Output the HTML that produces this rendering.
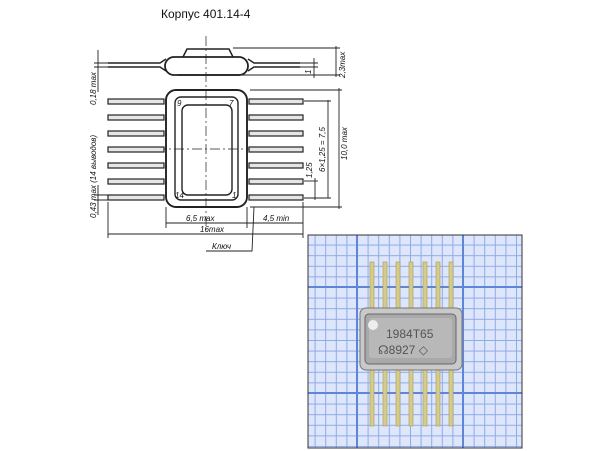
<!DOCTYPE html>
<html><head><meta charset="utf-8"><style>
html,body{margin:0;padding:0;background:#fff;width:600px;height:451px;overflow:hidden}
svg{display:block}
</style></head><body>
<svg width="600" height="451" viewBox="0 0 600 451" xmlns="http://www.w3.org/2000/svg" font-family="Liberation Sans, sans-serif">
<defs>
<pattern id="g" x="304" y="234" width="10.6" height="10.6" patternUnits="userSpaceOnUse">
<path d="M0 0.5H10.6M0.5 0V10.6" stroke="#8eaae6" stroke-width="1"/>
</pattern>
<pattern id="G" x="356" y="286" width="106" height="106" patternUnits="userSpaceOnUse">
<path d="M0 1H106M1 0V106" stroke="#5f86d6" stroke-width="2"/>
</pattern>
</defs>
<text x="161" y="18" font-size="12" fill="#111">Корпус 401.14-4</text>
<g stroke="#222" fill="none" stroke-width="1.2">
<line x1="206" y1="36" x2="206" y2="230" stroke-dasharray="10,3,2,3" stroke-width="0.7"/>
<path d="M108 63H160L166 59M108 67H160L166 71M248 59L254 63H300M248 71L254 67H300" stroke-width="1.4"/>
<rect x="165" y="57" width="83" height="18" rx="9" stroke-width="1.8"/>
<path d="M183 57L187 49H229L233 57" stroke-width="1.5"/>
<path d="M178 75H240" stroke-width="1.4"/>
<rect x="166" y="90" width="81" height="117" rx="10" stroke-width="1.9"/>
<rect x="175" y="97" width="63" height="103" rx="6" stroke-width="1.4"/>
<rect x="182" y="105" width="50" height="90" rx="6" stroke-width="1.4"/>
<line x1="120" y1="149" x2="290" y2="149" stroke-dasharray="10,3,2,3" stroke-width="0.7"/>
</g>
<g stroke="#222" stroke-width="1.2" fill="#e6e6e6">
<rect x="108" y="99" width="56" height="5"/><rect x="108" y="115" width="56" height="5"/><rect x="108" y="131" width="56" height="5"/><rect x="108" y="147" width="56" height="5"/><rect x="108" y="163" width="56" height="5"/><rect x="108" y="179" width="56" height="5"/><rect x="108" y="195" width="56" height="5"/>
<rect x="249" y="99" width="54" height="5"/><rect x="249" y="115" width="54" height="5"/><rect x="249" y="131" width="54" height="5"/><rect x="249" y="147" width="54" height="5"/><rect x="249" y="163" width="54" height="5"/><rect x="249" y="179" width="54" height="5"/><rect x="249" y="195" width="54" height="5"/>
</g>
<g font-style="italic" font-size="8" fill="#111">
<text x="177" y="106">9</text><text x="229" y="106">7</text>
<text x="175" y="198">14</text><text x="232" y="198">1</text>
</g>
<g stroke="#222" stroke-width="0.9" fill="none">
<line x1="339" y1="88" x2="339" y2="209"/><path d="M250 90H342M250 207H342"/>
<line x1="328" y1="100" x2="328" y2="198"/><path d="M304 101H331M304 198H331"/>
<line x1="315" y1="178" x2="315" y2="200"/><path d="M304 181H318"/>
<line x1="336" y1="46" x2="336" y2="77"/><path d="M233 48H340M240 75H340"/>
<line x1="314" y1="58" x2="314" y2="78"/><path d="M300 63H318M300 67H318"/>
<line x1="98" y1="50" x2="98" y2="92"/><path d="M94 63H108M94 67H108"/>
<line x1="98" y1="185" x2="98" y2="215"/><path d="M94 195H108M94 200H108"/>
<path d="M166 207V228M247 207V228M303 202V238M108 202V238"/>
<line x1="166" y1="223" x2="247" y2="223"/>
<line x1="247" y1="223" x2="303" y2="223"/>
<line x1="108" y1="234" x2="303" y2="234"/>
<path d="M206 251H252L254 207"/>
</g>
<g font-style="italic" font-size="8" fill="#111">
<text x="186" y="221">6,5 max</text>
<text x="263" y="221">4,5 min</text>
<text x="200" y="232">16max</text>
<text x="212" y="249">Ключ</text>
<text transform="translate(347,160) rotate(-90)">10,0 max</text>
<text transform="translate(325,172) rotate(-90)">6×1,25 = 7,5</text>
<text transform="translate(312,178) rotate(-90)">1,25</text>
<text transform="translate(345,78) rotate(-90)">2,3max</text>
<text transform="translate(311,74) rotate(-90)">1</text>
<text transform="translate(96,105) rotate(-90)">0,18 max</text>
<text transform="translate(96,218) rotate(-90)">0,43 max (14 выводов)</text>
</g>
<rect x="308" y="235" width="214" height="213" fill="#dde6fa"/>
<rect x="308" y="235" width="214" height="213" fill="url(#g)"/>
<rect x="308" y="235" width="214" height="213" fill="url(#G)"/>
<rect x="308" y="235" width="214" height="213" fill="none" stroke="#333" stroke-width="1"/>
<g fill="#d6cc8a" stroke="#a59a55" stroke-width="0.6">
<rect x="370" y="262" width="4" height="50"/><rect x="383" y="262" width="4" height="50"/><rect x="396" y="262" width="4" height="50"/><rect x="409" y="262" width="4" height="50"/><rect x="423" y="262" width="4" height="50"/><rect x="436" y="262" width="4" height="50"/><rect x="449" y="262" width="4" height="50"/>
<rect x="370" y="368" width="4" height="58"/><rect x="383" y="368" width="4" height="58"/><rect x="396" y="368" width="4" height="58"/><rect x="409" y="368" width="4" height="58"/><rect x="423" y="368" width="4" height="58"/><rect x="436" y="368" width="4" height="58"/><rect x="449" y="368" width="4" height="58"/>
</g>
<rect x="360" y="308" width="102" height="62" rx="6" fill="#c9c9c9" stroke="#777"/>
<rect x="365" y="314" width="91" height="50" rx="4" fill="#a9a9a9" stroke="#666"/>
<rect x="369" y="318" width="83" height="40" rx="3" fill="#b8b8b8"/>
<circle cx="373" cy="325" r="5" fill="#eee"/>
<text x="386" y="338" font-size="12" fill="#555">1984T65</text>
<text x="378" y="354" font-size="12" fill="#555">☊8927 ◇</text>
</svg>
</body></html>
